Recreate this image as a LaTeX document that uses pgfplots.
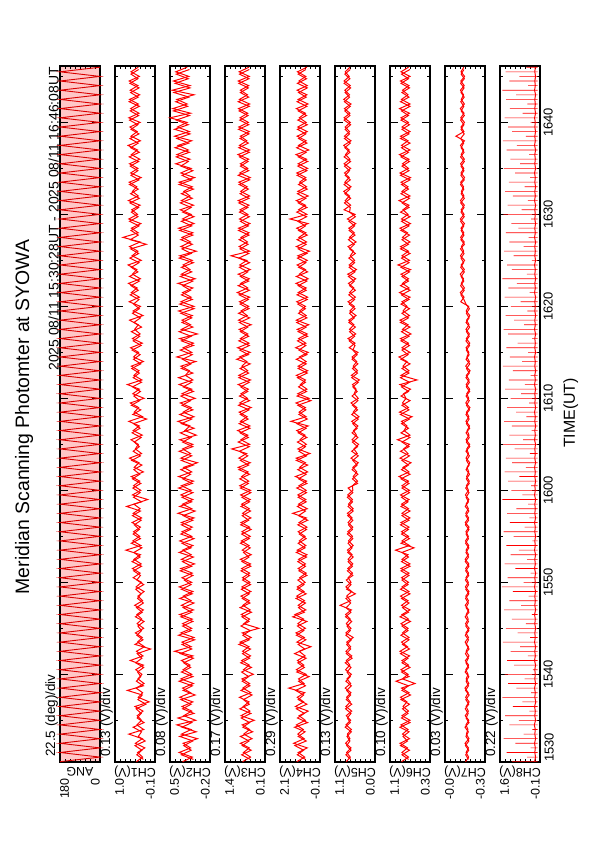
\documentclass[border=0pt]{standalone}
\usepackage{fontspec}
\setmainfont{Liberation Sans}
\usepackage{pgfplots}
\usepackage{pgfplotstable}
\pgfplotsset{compat=1.18}

\newcommand\lab{\fontsize{12.5}{14}\selectfont}
\newcommand\divf{\fontsize{13.5}{15}\selectfont}
\newcommand\tkf{\fontsize{13}{15}\selectfont}

\pgfplotstableread{
t a c1 c2 c3 c4 c5 c6 c7 c8 s
30.5 180 .41 .28 .83 1.18 .79 .87 -.154 .13 1.10
31.0 0 .24 .11 .57 .74 .68 .73 -.177 .09 .45
31.5 180 .38 .34 .80 1.10 .78 .86 -.158 .12 1.32
32.0 0 .18 .14 .61 .60 .66 .75 -.176 .10 .30
32.5 180 .44 .27 .90 1.35 .81 .90 -.150 .13 .95
33.0 0 .25 .02 .52 .77 .69 .71 -.180 .09 1.45
33.5 180 .62 .30 .79 1.12 .76 .85 -.160 .12 .60
34.0 0 .21 .13 .60 .82 .65 .74 -.172 .10 .22
34.5 180 .40 .38 .84 1.20 .80 .88 -.157 .14 1.20
35.0 0 .27 .05 .45 .71 .67 .70 -.178 .09 .80
35.5 180 .39 .26 .88 1.05 .79 .86 -.152 .12 1.38
36.0 0 .23 .12 .59 .55 .64 .73 -.175 .10 .35
36.5 180 .45 .29 .81 1.25 .80 .84 -.158 .13 1.05
37.0 0 .06 .10 .62 .80 .68 .76 -.181 .08 .65
37.5 180 .36 .33 .93 1.15 .78 .89 -.155 .12 1.50
38.0 0 .24 .14 .56 .74 .66 .72 -.174 .10 .28
38.5 180 .42 .28 .82 1.62 .82 .87 -.150 .13 .90
39.0 0 .20 .09 .60 .78 .67 .60 -.179 .09 1.25
39.5 180 .37 .31 .85 1.08 .77 .85 -.159 .12 .55
40.0 0 .26 .12 .48 .66 .65 .74 -.173 .10 1.40
40.5 180 .43 .27 .80 1.20 .81 .88 -.156 .12 .20
41.0 0 .22 .15 .61 .79 .69 .73 -.177 .09 1.00
41.5 180 .58 .30 .86 1.14 .79 .86 -.153 .13 1.30
42.0 0 .23 .10 .57 .72 .64 .71 -.180 .10 .42
42.5 180 .41 .42 .83 1.05 .80 .90 -.158 .12 1.15
43.0 0 .19 .13 .62 .40 .67 .75 -.175 .09 .75
43.5 180 .38 .29 .91 1.17 .78 .87 -.151 .13 1.48
44.0 0 .25 .08 .55 .76 .60 .72 -.176 .10 .32
44.5 180 .44 .31 .84 1.22 .80 .85 -.157 .12 .85
45.0 0 .21 .12 .30 .70 .66 .74 -.181 .09 1.35
45.5 180 .39 .28 .79 1.12 .79 .88 -.154 .12 .50
46.0 0 .26 .11 .60 .80 .68 .73 -.174 .10 1.10
46.5 180 .40 .33 .87 1.28 .81 .86 -.159 .13 .25
47.0 0 .22 .09 .58 .68 .65 .70 -.178 .09 1.42
47.5 180 .46 .30 .82 1.10 .96 .87 -.152 .12 .70
48.0 0 .24 .13 .61 .75 .67 .74 -.176 .10 1.20
48.5 180 .37 .27 .88 1.18 .78 .89 -.156 .12 .38
49.0 0 .20 .10 .56 .78 .64 .72 -.180 .09 1.05
49.5 180 .42 .34 .85 1.15 .80 .86 -.153 .13 1.52
50.0 0 .27 .12 .59 .72 .66 .73 -.175 .10 .60
50.5 180 .50 .29 .83 1.02 .74 .87 -.157 .12 1.28
51.0 0 .31 .11 .60 .66 .62 .72 -.177 .09 .30
51.5 180 .52 .31 .86 1.10 .75 .88 -.155 .13 .95
52.0 0 .28 .07 .57 .70 .61 .70 -.179 .10 1.40
52.5 180 .48 .30 .90 1.08 .74 .86 -.151 .12 .45
53.0 0 .30 .13 .55 .62 .63 .74 -.176 .09 1.15
53.5 180 .70 .28 .84 1.15 .76 .99 -.158 .13 .80
54.0 0 .29 .10 .62 .68 .60 .71 -.178 .10 1.33
54.5 180 .51 .33 .87 1.04 .73 .86 -.154 .12 .22
55.0 0 .32 .12 .58 .72 .62 .73 -.175 .09 1.02
55.5 180 .49 .29 .85 1.10 .75 .87 -.157 .12 1.45
56.0 0 .30 .11 .60 .62 .61 .72 -.180 .10 .55
56.5 180 .53 .30 .88 1.05 .74 .88 -.152 .13 1.18
57.0 0 .27 .08 .56 .65 .63 .70 -.177 .09 .35
57.5 180 .50 .36 .83 1.40 .76 .86 -.156 .12 1.30
58.0 0 .31 .12 .61 .60 .60 .73 -.175 .10 .90
58.5 180 .48 .28 .86 1.08 .73 .87 -.158 .12 .40
59.0 0 .10 .10 .58 .68 .62 .72 -.179 .09 1.50
59.5 180 .52 .31 .89 1.12 .75 .89 -.153 .13 .65
60.0 0 .29 .13 .57 .66 .61 .71 -.176 .10 1.12
60.5 180 .49 .30 .92 1.06 .62 .86 -.160 .12 .28
61.0 0 .32 .09 .63 .64 .48 .73 -.182 .09 1.25
61.5 180 .55 .35 .86 1.25 .60 .92 -.162 .12 .78
62.0 0 .22 .12 .65 .58 .50 .72 -.178 .10 1.40
62.5 180 .47 .26 .97 1.02 .61 .84 -.165 .13 .50
63.0 0 .34 .02 .58 .70 .46 .68 -.186 .09 1.08
63.5 180 .60 .31 .95 1.20 .66 .90 -.158 .12 1.35
64.0 0 .27 .14 .70 .45 .49 .74 -.176 .10 .33
64.5 180 .44 .28 1.18 1.12 .58 .83 -.163 .12 .98
65.0 0 .36 .10 .60 .65 .45 .71 -.185 .09 1.47
65.5 180 .56 .33 .88 1.00 .63 .95 -.158 .13 .62
66.0 0 .25 .04 .66 .72 .51 .70 -.180 .10 1.20
66.5 180 .50 .24 .99 1.18 .59 .82 -.166 .12 .26
67.0 0 .33 .15 .59 .55 .47 .76 -.184 .09 1.10
67.5 180 .62 .36 .90 1.50 .64 .87 -.157 .12 1.42
68.0 0 .24 .08 .68 .66 .44 .66 -.179 .10 .48
68.5 180 .47 .27 .94 1.05 .60 .91 -.161 .13 .92
69.0 0 .35 .13 .55 .70 .50 .73 -.187 .09 1.30
69.5 180 .58 .32 .92 1.22 .66 .85 -.156 .12 .36
70.0 0 .20 .06 .67 .50 .46 .78 -.178 .10 1.15
70.5 180 .51 .29 .88 1.12 .57 .83 -.163 .12 .70
71.0 0 .33 .12 .64 .62 .52 .69 -.185 .09 1.38
71.5 180 .66 .34 .97 0.98 .62 .90 -.159 .13 .54
72.0 0 .26 .10 .57 .70 .43 .56 -.181 .10 1.22
72.5 180 .48 .23 .95 1.20 .65 .88 -.160 .12 .30
73.0 0 .34 .16 .66 .58 .48 .72 -.188 .09 1.05
73.5 180 .55 .31 .85 1.10 .60 .84 -.155 .12 1.48
74.0 0 .22 .05 .69 .66 .50 .76 -.182 .10 .66
74.5 180 .49 .38 .93 1.04 .63 .92 -.164 .13 1.18
75.0 0 .35 .12 .58 .55 .47 .70 -.179 .09 .40
75.5 180 .57 .27 .99 1.24 .71 .86 -.158 .12 1.33
76.0 0 .25 .09 .62 .68 .55 .73 -.186 .10 .85
76.5 180 .52 .33 .90 1.08 .74 .89 -.160 .12 .24
77.0 0 .31 .02 .66 .60 .53 .68 -.183 .09 1.26
77.5 180 .46 .30 .94 1.15 .70 .85 -.157 .13 1.45
78.0 0 .36 .14 .55 .52 .58 .74 -.180 .10 .58
78.5 180 .60 .29 .96 1.20 .72 .90 -.162 .12 1.00
79.0 0 .23 .11 .68 .66 .52 .71 -.186 .09 1.36
79.5 180 .50 .35 .88 1.02 .69 .84 -.159 .12 .44
80.0 0 .30 .08 .63 .70 .57 .76 -.178 .10 1.14
80.5 180 .61 .31 .93 1.18 .74 .86 -.118 .12 .72
81.0 0 .33 .13 .60 .58 .54 .70 -.143 .09 1.40
81.5 180 .55 .28 1.00 1.10 .70 .91 -.115 .13 .34
82.0 0 .39 .10 .66 .66 .58 .72 -.146 .10 1.24
82.5 180 .63 .36 .89 1.22 .73 .85 -.122 .12 .88
83.0 0 .30 .06 .61 .55 .53 .73 -.139 .09 1.50
83.5 180 .52 .30 .97 1.04 .75 .88 -.114 .12 .46
84.0 0 .40 .15 .58 .70 .51 .69 -.145 .10 1.10
84.5 180 .64 .27 .92 1.16 .71 .94 -.121 .13 1.30
85.0 0 .28 .11 .69 .60 .56 .71 -.147 .09 .25
85.5 180 .53 .33 1.20 1.12 .68 .86 -.116 .12 1.02
86.0 0 .37 .04 .60 .48 .59 .73 -.140 .10 1.42
86.5 180 .60 .31 .94 1.20 .74 .89 -.123 .12 .60
87.0 0 .31 .14 .67 .64 .52 .70 -.144 .09 1.20
87.5 180 .78 .29 .88 1.06 .70 .85 -.117 .13 .38
88.0 0 .36 .10 .62 .68 .57 .75 -.141 .10 1.35
88.5 180 .55 .35 .96 1.18 .72 .90 -.120 .12 .82
89.0 0 .29 .08 .59 .56 .53 .69 -.146 .09 1.12
89.5 180 .62 .28 .93 1.55 .76 .87 -.115 .12 .28
90.0 0 .38 .13 .66 .62 .55 .74 -.143 .10 1.46
90.5 180 .54 .32 .91 1.08 .85 .84 -.121 .12 .68
91.0 0 .31 .09 .62 .70 .67 .72 -.145 .09 1.28
91.5 180 .63 .30 .97 1.20 .82 .92 -.116 .13 .42
92.0 0 .36 .15 .60 .55 .70 .70 -.142 .10 1.05
92.5 180 .52 .26 .89 1.12 .86 .86 -.123 .12 1.38
93.0 0 .40 .11 .68 .64 .66 .74 -.139 .09 .55
93.5 180 .61 .34 .95 1.02 .83 .88 -.118 .12 1.22
94.0 0 .28 .07 .58 .68 .71 .69 -.147 .10 .32
94.5 180 .57 .31 .92 1.18 .84 .90 -.120 .13 .96
95.0 0 .37 .13 .66 .58 .67 .73 -.141 .09 1.44
95.5 180 .60 .40 .90 1.10 .85 .85 -.117 .12 .74
96.0 0 .32 .15 .63 .64 .69 .72 -.145 .10 1.16
96.5 180 .55 .38 .98 1.22 .81 .91 -.121 .12 .36
97.0 0 .38 .18 .60 .52 .71 .70 -.140 .09 1.32
97.5 180 .64 .36 .93 1.08 .86 .87 -.116 .13 .88
98.0 0 .30 .12 .69 .66 .66 .74 -.146 .10 1.48
98.5 180 .56 .42 .90 1.16 .84 .89 -.082 .12 .50
99.0 0 .39 .16 .61 .60 .70 .70 -.142 .09 1.08
99.5 180 .59 .37 .95 1.12 .82 .86 -.120 .12 1.26
100.0 0 .31 .20 .64 .66 .68 .73 -.146 .10 .30
100.5 180 .62 .50 .91 1.04 .85 .88 -.118 .13 1.40
101.0 0 .34 .14 .66 .70 .69 .71 -.143 .09 .64
101.5 180 .57 .45 .96 1.20 .84 .91 -.115 .12 1.18
102.0 0 .36 .20 .60 .56 .66 .70 -.145 .10 .44
102.5 180 .60 .38 .93 1.10 .86 .87 -.122 .12 1.34
103.0 0 .32 .08 .67 .62 .70 .74 -.139 .09 .92
103.5 180 .58 .46 .90 1.16 .83 .85 -.116 .13 1.50
104.0 0 .37 .15 .63 .60 .68 .72 -.144 .10 .40
104.5 180 .61 .44 .97 1.06 .85 .89 -.119 .12 1.20
105.0 0 .33 .17 .61 .68 .71 .70 -.147 .09 .78
105.5 180 .56 .40 .94 1.14 .82 .88 -.120 .12 1.36
106.0 0 .36 .20 .62 .62 .69 .73 -.141 .10 .48
}\data

\pgfplotstableread{
t c1 c2 c3 c4 c5 c6 c7
30.75 .22 .09 .58 .70 .67 .73 -.176
31.25 .40 .30 .86 1.15 .80 .86 -.155
31.75 .26 .13 .55 .80 .66 .71 -.178
32.25 .45 .26 .84 1.28 .78 .89 -.153
32.75 .17 .10 .62 .66 .69 .75 -.179
33.25 .36 .33 .90 1.10 .77 .84 -.157
33.75 .27 .04 .50 .72 .65 .72 -.175
34.25 .50 .29 .82 1.30 .82 .90 -.150
34.75 .20 .12 .60 .58 .68 .70 -.180
35.25 .39 .36 .87 1.14 .76 .87 -.158
35.75 .28 .08 .56 .76 .66 .74 -.174
36.25 .42 .28 .92 1.20 .81 .85 -.152
36.75 .15 .13 .61 .62 .64 .71 -.178
37.25 .37 .31 .80 1.10 .79 .88 -.156
37.75 .25 .06 .52 .80 .67 .69 -.181
38.25 .66 .27 .88 1.24 .78 .86 -.154
38.75 .22 .11 .59 .70 .65 .73 -.176
39.25 .41 .34 .84 1.08 .80 .98 -.158
39.75 .29 .10 .63 .50 .68 .72 -.179
40.25 .38 .30 .86 1.18 .77 .87 -.151
40.75 .21 .14 .54 .76 .66 .70 -.177
41.25 .43 .26 .89 1.12 .82 .86 -.157
41.75 .26 .09 .60 .66 .63 .74 -.175
42.25 .39 .32 .83 1.30 .79 .89 -.153
42.75 .02 .12 .57 .74 .67 .71 -.180
43.25 .45 .29 .95 1.10 .78 .85 -.159
43.75 .23 .07 .61 .68 .65 .72 -.176
44.25 .40 .35 .82 1.20 .80 .88 -.152
44.75 .27 .13 .58 .79 .68 .74 -.179
45.25 .37 .28 .88 1.14 .77 .86 -.156
45.75 .20 .10 .62 .62 .64 .69 -.176
46.25 .44 .31 .85 1.40 .81 .90 -.151
46.75 .25 .12 .54 .76 .66 .73 -.180
47.25 .41 .27 .91 1.08 .79 .85 -.158
47.75 .22 .08 .59 .70 .67 .72 -.175
48.25 .38 .33 .84 1.22 .80 .87 -.154
48.75 .28 .11 .61 .66 .54 .70 -.179
49.25 .43 .30 .87 1.16 .78 .89 -.156
49.75 .21 .13 .57 .78 .66 .74 -.177
50.25 .40 .25 .83 1.12 .79 .86 -.153
50.75 .30 .10 .60 .62 .61 .72 -.178
51.25 .49 .32 .88 1.06 .76 .88 -.155
51.75 .27 .12 .56 .70 .62 .70 -.180
52.25 .53 .28 .85 1.12 .74 .87 -.152
52.75 .31 .09 .62 .64 .60 .73 -.177
53.25 .48 .34 .80 1.20 .75 .86 -.157
53.75 .26 .13 .58 .72 .63 .62 -.179
54.25 .55 .29 .90 1.10 .74 .88 -.154
54.75 .30 .08 .61 .66 .61 .71 -.176
55.25 .50 .31 .86 1.04 .76 .87 -.158
55.75 .33 .14 .55 .64 .62 .73 -.180
56.25 .47 .30 .89 1.12 .73 .89 -.153
56.75 .28 .10 .63 .58 .61 .72 -.177
57.25 .52 .27 .84 1.08 .75 .86 -.156
57.75 .30 .06 .57 .70 .60 .70 -.179
58.25 .68 .33 .88 1.14 .74 .88 -.152
58.75 .27 .12 .60 .66 .62 .74 -.176
59.25 .49 .29 .85 1.10 .76 .87 -.158
59.75 .31 .10 .56 .64 .61 .71 -.180
60.25 .51 .35 .90 1.18 .74 .86 -.155
60.75 .29 .11 .64 .62 .48 .72 -.182
61.25 .52 .28 .92 1.08 .62 .88 -.160
61.75 .32 .14 .60 .66 .47 .70 -.184
62.25 .48 .31 .95 1.12 .63 .87 -.158
62.75 .26 .09 .63 .58 .49 .73 -.181
63.25 .54 .30 .90 1.20 .61 .86 -.161
63.75 .30 .12 .66 .64 .46 .71 -.183
64.25 .50 .34 .93 1.06 .64 .89 -.157
64.75 .33 .10 .61 .70 .48 .72 -.186
65.25 .47 .28 .97 1.14 .62 .86 -.160
65.75 .28 .13 .64 .62 .47 .70 -.182
66.25 .53 .32 .91 1.10 .63 .88 -.158
66.75 .31 .08 .59 .66 .49 .73 -.185
67.25 .49 .30 .94 1.18 .61 .87 -.160
67.75 .13 .12 .65 .60 .46 .71 -.181
68.25 .51 .33 .90 1.06 .64 .89 -.157
68.75 .29 .10 .62 .68 .48 .72 -.184
69.25 .55 .29 .96 1.12 .62 .86 -.161
69.75 .32 .14 .60 .40 .47 .70 -.182
70.25 .48 .31 .93 1.16 .63 .88 -.158
70.75 .30 .09 .66 .64 .49 .73 -.185
71.25 .52 .27 .89 1.08 .61 .87 -.160
71.75 .27 .12 .61 .70 .46 .71 -.183
72.25 .50 .35 .95 1.14 .64 .89 -.157
72.75 .33 .10 .63 .60 .48 .72 -.182
73.25 .54 .30 .91 1.10 .62 .86 -.161
73.75 .29 .13 .58 .66 .47 .70 -.186
74.25 .49 .28 1.02 1.20 .63 .88 -.158
74.75 .31 .11 .64 .62 .49 .74 -.181
75.25 .53 .32 .92 1.06 .61 .86 -.160
75.75 .28 .09 .61 .68 .55 .71 -.184
76.25 .50 .30 .95 1.14 .71 .88 -.157
76.75 .32 .13 .63 .58 .56 .72 -.182
77.25 .55 .34 .90 1.10 .70 .87 -.161
77.75 .27 .10 .66 .66 .54 .70 -.185
78.25 .48 .29 .93 1.18 .72 .89 -.158
78.75 .30 .12 .60 .62 .57 .73 -.181
79.25 .52 .31 .96 1.08 .70 .86 -.160
79.75 .33 .08 .62 .70 .55 .71 -.183
80.25 .49 .33 .91 1.12 .71 .88 -.157
80.75 .34 .11 .64 .60 .56 .72 -.142
81.25 .58 .30 .94 1.16 .72 .87 -.119
81.75 .36 .14 .61 .66 .54 .70 -.144
82.25 .56 .28 .97 1.10 .70 .89 -.117
82.75 .33 .10 .63 .62 .57 .73 -.141
83.25 .60 .32 .90 1.20 .73 .86 -.121
83.75 .37 .12 .66 .58 .55 .71 -.145
84.25 .55 .30 .93 1.08 .71 .88 -.118
84.75 .34 .09 .60 .68 .56 .72 -.140
85.25 .59 .34 .95 1.14 .72 .87 -.120
85.75 .35 .13 .63 .62 .54 .70 -.143
86.25 .57 .29 .91 1.10 .70 .89 -.116
86.75 .14 .11 .65 .66 .57 .73 -.146
87.25 .58 .31 .94 1.16 .73 .86 -.119
87.75 .36 .10 .62 .60 .55 .71 -.142
88.25 .56 .33 .96 1.08 .71 .88 -.121
88.75 .34 .12 .64 .70 .56 .72 -.141
89.25 .60 .30 .90 1.12 .72 .87 -.117
89.75 .37 .08 .61 .64 .54 .70 -.144
90.25 .55 .28 .93 1.18 .70 .89 -.120
90.75 .35 .13 .66 .62 .68 .72 -.143
91.25 .59 .32 .95 1.10 .84 .86 -.118
91.75 .33 .11 .62 .68 .67 .71 -.145
92.25 .57 .30 .91 1.14 .83 .88 -.121
92.75 .36 .09 .64 .60 .69 .73 -.141
93.25 .60 .34 .94 1.08 .85 .87 -.116
93.75 .34 .12 .60 .66 .68 .70 -.144
94.25 .56 .29 .97 1.16 .82 .89 -.119
94.75 .37 .10 .63 .62 .70 .72 -.142
95.25 .58 .31 .90 1.12 .84 .86 -.120
95.75 .35 .18 .65 .58 .67 .71 -.145
96.25 .61 .39 .93 1.10 .85 .88 -.117
96.75 .33 .16 .61 .66 .69 .73 -.143
97.25 .57 .41 .95 1.18 .83 .87 -.121
97.75 .36 .17 .64 .62 .68 .70 -.140
98.25 .59 .38 .91 1.08 .84 .89 -.118
98.75 .34 .15 .62 .68 .70 .72 -.144
99.25 .56 .42 .96 1.14 .82 .86 -.120
99.75 .37 .18 .63 .60 .67 .71 -.142
100.25 .60 .39 .92 1.12 .85 .88 -.117
100.75 .35 .16 .65 .64 .69 .73 -.145
101.25 .58 .44 .94 1.10 .83 .87 -.121
101.75 .33 .19 .61 .62 .68 .70 -.141
102.25 .61 .40 .97 1.16 .84 .89 -.118
102.75 .36 .17 .63 .66 .70 .72 -.144
103.25 .57 .43 .90 1.08 .82 .86 -.120
103.75 .34 .15 .64 .60 .67 .71 -.143
104.25 .59 .41 .95 1.14 .85 .88 -.117
104.75 .37 .18 .62 .64 .69 .73 -.145
105.25 .56 .39 .93 1.10 .83 .87 -.121
105.75 .35 .16 .61 .68 .68 .70 -.142
}\datb

\pgfplotsset{
  panel/.style={
    scale only axis, width=40bp, height=696bp,
    anchor=south west,
    x dir=reverse,
    ymin=30.467, ymax=106.133,
    ytick={30.467,40,50,60,70,80,90,100},
    minor ytick={35,45,55,65,75,85,95,105},
    yticklabels={},
    xticklabels={},
    tick align=inside,
    tick pos=both,
    major tick length=8bp, minor tick length=3bp,
    major tick style={line width=1.5pt,black},
    minor tick style={line width=0.9pt,black},
    axis line style={line width=1.6pt},
    clip=false,
  },
  dat/.style={red, line width=1.0pt},
}

% name, high label, low label, per-div text
\newcommand\annot[4]{%
  \node[rotate=180,font=\lab,inner sep=0pt] at (axis description cs:0.5,-0.0144) {#1};
  \node[rotate=90,anchor=north east,font=\lab,inner sep=0pt] at (axis description cs:0,-0.023) {#2};
  \node[rotate=90,anchor=south east,font=\lab,inner sep=0pt] at (axis description cs:1,-0.023) {#3};
  \node[rotate=90,anchor=south west,font=\divf,inner sep=0pt] at (axis description cs:-0.05,0.0072) {#4};
}
\newcommand\both[1]{%
  \addplot[dat] table[x=#1,y=t] {\data};
  \addplot[dat] table[x=#1,y=t] {\datb};
}

\begin{document}
\begin{tikzpicture}
\useasboundingbox (0,0) rectangle (595bp,842bp);

\node[rotate=90,anchor=base,inner sep=0pt,font=\fontsize{19.5}{22}\selectfont] at (29bp,425bp) {Meridian Scanning Photomter at SYOWA};
\node[rotate=90,anchor=south east,inner sep=0pt,font=\fontsize{14}{16}\selectfont] at (59bp,775bp) {2025 08/11 15:30:28UT - 2025 08/11 16:46:08UT};
\node[rotate=90,anchor=north,inner sep=0pt,font=\fontsize{16}{18}\selectfont] at (563bp,429bp) {TIME(UT)};

% ANG
\begin{axis}[panel, at={(60bp,80bp)}, xmin=0, xmax=180,
  xtick={0,180}, minor xtick={0,22.5,...,180},
  axis background/.style={fill=red!22}]
\addplot[red!85!black, line width=0.9pt] table[x=a,y=t] {\data};
\annot{ANG}{180}{0}{22.5 (deg)/div}
\end{axis}

% CH1
\begin{axis}[panel, at={(115bp,80bp)}, xmin=-0.1, xmax=1.0,
  xtick={-0.1,1.0}, minor xtick={-0.1,0.0375,...,1.0}]
\both{c1}
\annot{CH1(V)}{1.0}{-0.1}{0.13 (V)/div}
\end{axis}

% CH2
\begin{axis}[panel, at={(170bp,80bp)}, xmin=-0.2, xmax=0.5,
  xtick={-0.2,0.5}, minor xtick={-0.2,-0.1125,...,0.5}]
\both{c2}
\annot{CH2(V)}{0.5}{-0.2}{0.08 (V)/div}
\end{axis}

% CH3
\begin{axis}[panel, at={(225bp,80bp)}, xmin=0.1, xmax=1.4,
  xtick={0.1,1.4}, minor xtick={0.1,0.2625,...,1.4}]
\both{c3}
\annot{CH3(V)}{1.4}{0.1}{0.17 (V)/div}
\end{axis}

% CH4
\begin{axis}[panel, at={(280bp,80bp)}, xmin=-0.1, xmax=2.1,
  xtick={-0.1,2.1}, minor xtick={-0.1,0.175,...,2.1}]
\both{c4}
\annot{CH4(V)}{2.1}{-0.1}{0.29 (V)/div}
\end{axis}

% CH5
\begin{axis}[panel, at={(335bp,80bp)}, xmin=0.0, xmax=1.1,
  xtick={0,1.1}, minor xtick={0,0.1375,...,1.1}]
\both{c5}
\annot{CH5(V)}{1.1}{0.0}{0.13 (V)/div}
\end{axis}

% CH6
\begin{axis}[panel, at={(390bp,80bp)}, xmin=0.3, xmax=1.1,
  xtick={0.3,1.1}, minor xtick={0.3,0.4,...,1.1}]
\both{c6}
\annot{CH6(V)}{1.1}{0.3}{0.10 (V)/div}
\end{axis}

% CH7
\begin{axis}[panel, at={(445bp,80bp)}, xmin=-0.3, xmax=0.0,
  xtick={-0.3,0}, minor xtick={-0.3,-0.2625,...,0}]
\both{c7}
\annot{CH7(V)}{-0.0}{-0.3}{0.03 (V)/div}
\end{axis}

% CH8
\begin{axis}[panel, at={(500bp,80bp)}, xmin=-0.1, xmax=1.6,
  xtick={-0.1,1.6}, minor xtick={-0.1,0.1125,...,1.6},
  yticklabel pos=right,
  yticklabels={,1540,1550,1600,1610,1620,1630,1640},
  yticklabel style={rotate=90,anchor=north,font=\tkf}]
\addplot[xbar, bar width=0.6pt, fill=red, draw=none] table[x=s,y=t] {\data};
\addplot[dat] table[x=c8,y=t] {\data};
\annot{CH8(V)}{1.6}{-0.1}{0.22 (V)/div}
\node[rotate=90,anchor=north west,font=\tkf,inner sep=0pt] at (axis description cs:1.108,0) {1530};
\end{axis}
\end{tikzpicture}
\end{document}
